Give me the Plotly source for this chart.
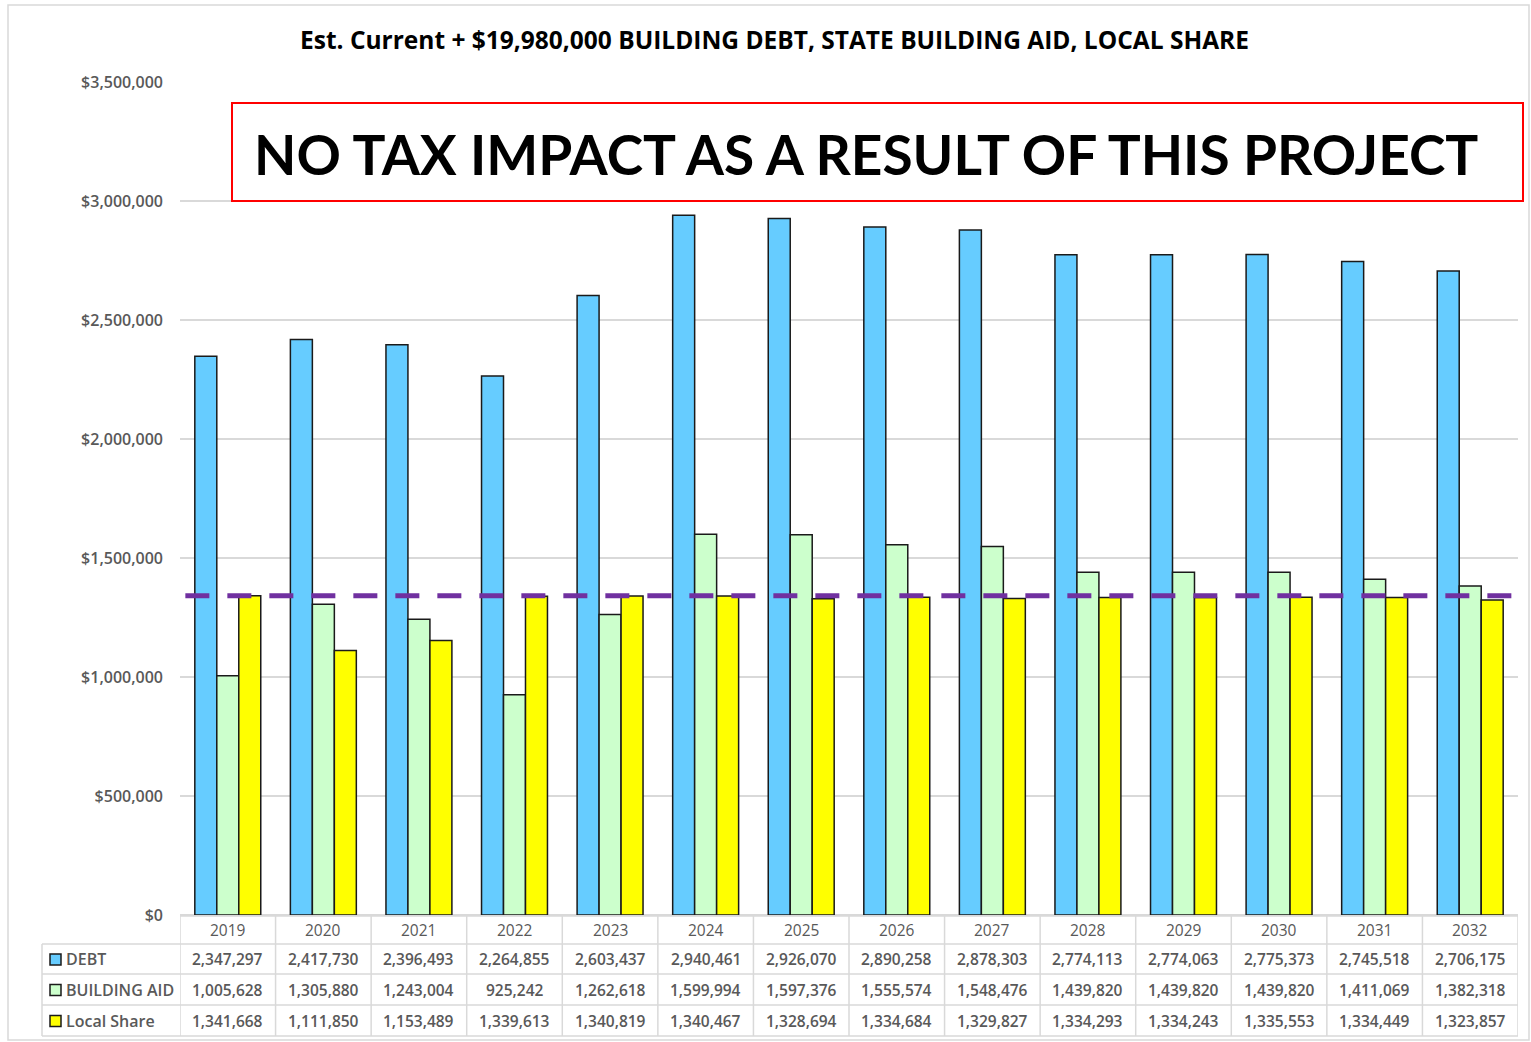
import plotly.graph_objects as go

# ---------------- data ----------------
years = ["2019", "2020", "2021", "2022", "2023", "2024", "2025",
         "2026", "2027", "2028", "2029", "2030", "2031", "2032"]
debt = [2347297, 2417730, 2396493, 2264855, 2603437, 2940461, 2926070,
        2890258, 2878303, 2774113, 2774063, 2775373, 2745518, 2706175]
building_aid = [1005628, 1305880, 1243004, 925242, 1262618, 1599994, 1597376,
                1555574, 1548476, 1439820, 1439820, 1439820, 1411069, 1382318]
local_share = [1341668, 1111850, 1153489, 1339613, 1340819, 1340467, 1328694,
               1334684, 1329827, 1334293, 1334243, 1335553, 1334449, 1323857]
series_names = ["DEBT", "BUILDING AID", "Local Share"]
series_colors = ["#66CCFF", "#CCFFCC", "#FFFF00"]
local_level = 1341668
y_ticks = [0, 500000, 1000000, 1500000, 2000000, 2500000, 3000000, 3500000]

TITLE = "Est. Current + $19,980,000 BUILDING DEBT, STATE BUILDING AID, LOCAL SHARE"
BANNER = "NO TAX IMPACT AS A RESULT OF THIS PROJECT"

W, H = 1531, 1042
FONT = "Open Sans"
GRAY = "#595959"
GRID = "#D9D9D9"


def px(x):
    return x / W


def py(y):
    return 1 - y / H


fig = go.Figure()
for name, vals, col in zip(series_names, [debt, building_aid, local_share], series_colors):
    fig.add_trace(go.Bar(
        x=years, y=vals, name=name,
        marker=dict(color=col, line=dict(color="#1a1a1a", width=1.5)),
        hovertemplate="%{x}: %{y:,}<extra>" + name + "</extra>",
    ))

shapes = []
annotations = []

# dashed local share level line
shapes.append(dict(type="line", xref="x domain", yref="y", x0=0.004, x1=0.998,
                   y0=local_level, y1=local_level,
                   line=dict(color="#7030A0", width=5, dash="24px,18px"), layer="above"))

# outer border
shapes.append(dict(type="rect", xref="paper", yref="paper", x0=px(8), x1=px(1529),
                   y0=py(1040), y1=py(5), line=dict(color="#D9D9D9", width=1.5)))

# banner box
shapes.append(dict(type="rect", xref="paper", yref="paper", x0=px(232), x1=px(1523),
                   y0=py(201), y1=py(103), line=dict(color="#FF0000", width=2),
                   fillcolor="white", layer="above"))
annotations.append(dict(text="<b>" + BANNER + "</b>", xref="paper", yref="paper",
                        x=px(866), y=py(154), xanchor="center", yanchor="middle",
                        showarrow=False,
                        font=dict(family="Lato", size=55, color="black")))

# title
annotations.append(dict(text="<b>" + TITLE + "</b>", xref="paper", yref="paper",
                        x=px(774), y=py(39), xanchor="center", yanchor="middle",
                        showarrow=False,
                        font=dict(family=FONT, size=24.5, color="black")))

# ---------------- data table ----------------
t_top, r1, r2, r3, t_bot = 916, 944, 974, 1005, 1036
tl = dict(color=GRID, width=1.5)
# horizontal lines
shapes.append(dict(type="line", xref="x", yref="paper", x0=-0.5, x1=len(years) - 0.5,
                   y0=py(t_top), y1=py(t_top), line=tl))
for yy in [r1, r2, r3, t_bot]:
    shapes.append(dict(type="line", xref="paper", yref="paper", x0=px(42), x1=px(1518),
                       y0=py(yy), y1=py(yy), line=tl))
# vertical lines
shapes.append(dict(type="line", xref="paper", yref="paper", x0=px(42), x1=px(42),
                   y0=py(r1), y1=py(t_bot), line=tl))
for i in range(len(years) + 1):
    shapes.append(dict(type="line", xref="x", yref="paper", x0=i - 0.5, x1=i - 0.5,
                       y0=py(t_top), y1=py(t_bot), line=tl))

row_centers = [(r1 + r2) / 2, (r2 + r3) / 2, (r3 + t_bot) / 2]
for i, yr in enumerate(years):
    annotations.append(dict(text=yr, xref="x", yref="paper", x=i, y=py((t_top + r1) / 2),
                            xanchor="center", yanchor="middle", showarrow=False,
                            font=dict(family=FONT, size=15.5, color=GRAY, weight=500)))
for name, vals, col, yc in zip(series_names, [debt, building_aid, local_share],
                               series_colors, row_centers):
    shapes.append(dict(type="rect", xref="paper", yref="paper", x0=px(50), x1=px(61),
                       y0=py(yc + 6), y1=py(yc - 5), fillcolor=col,
                       line=dict(color="#1a1a1a", width=1.5)))
    annotations.append(dict(text=name, xref="paper", yref="paper", x=px(64), y=py(yc),
                            xanchor="left", yanchor="middle", showarrow=False,
                            font=dict(family=FONT, size=16, color=GRAY, weight=600)))
    for i, v in enumerate(vals):
        annotations.append(dict(text=f"{v:,}", xref="x", yref="paper", x=i, y=py(yc),
                                xanchor="center", yanchor="middle", showarrow=False,
                                font=dict(family=FONT, size=15.5, color=GRAY, weight=600)))

fig.update_layout(
    width=W, height=H,
    margin=dict(l=0, r=0, t=0, b=0, autoexpand=False),
    paper_bgcolor="white", plot_bgcolor="white",
    barmode="group", bargap=0.31, bargroupgap=0,
    showlegend=False,
    shapes=shapes, annotations=annotations,
    xaxis=dict(domain=[px(180), px(1518)], range=[-0.5, len(years) - 0.5],
               showticklabels=False, showgrid=False, zeroline=False,
               showline=False, type="category", automargin=False),
    yaxis=dict(domain=[py(915), py(82)], range=[0, 3500000], tickvals=y_ticks,
               tickformat="$,.0f", showgrid=True, gridcolor=GRID, gridwidth=1.5,
               zeroline=True, zerolinecolor=GRID, zerolinewidth=1.5,
               ticks="", ticklabelstandoff=16, automargin=False,
               tickfont=dict(family=FONT, size=16, color=GRAY, weight=600)),
    font=dict(family=FONT),
)

fig.write_html("out.html", config={"displayModeBar": False},
               post_script="document.body.style.margin='0';document.body.style.overflow='hidden';")
